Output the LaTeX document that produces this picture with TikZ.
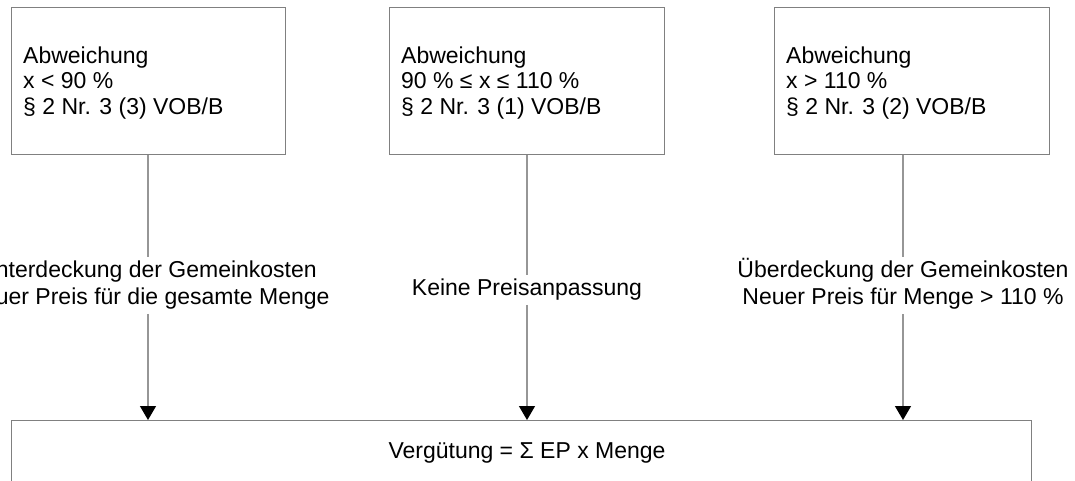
\documentclass[tikz,border=0pt]{standalone}
\usepackage{fontspec}
\setmainfont{Liberation Sans}
\usetikzlibrary{arrows.meta,calc}
\definecolor{boxgray}{RGB}{128,128,128}
\definecolor{linegray}{RGB}{150,150,150}
\begin{document}
\begin{tikzpicture}[x=1pt,y=-1pt,
  topbox/.style={draw=boxgray,line width=1.3pt,minimum width=#1,minimum height=147pt,inner sep=0pt,anchor=north west},
  boxtext/.style={anchor=north west,inner sep=0pt,align=left,font=\fontsize{23}{25.5}\selectfont},
  midlabel/.style={anchor=north,fill=white,inner xsep=2pt,inner ysep=1.5pt,align=center,font=\fontsize{23}{27}\selectfont},
  plainline/.style={draw=linegray,line width=1.3pt},
  arrowline/.style={draw=linegray,line width=1.3pt,-{Triangle[length=14pt,width=16pt,color=black]}}
]
\useasboundingbox (0,0) rectangle (1075,481);
\clip (0,0) rectangle (1075,481);

% top boxes
\node[topbox=274pt] (bl) at (11,7) {};
\node[topbox=275pt] (bm) at (389,7) {};
\node[topbox=275pt] (br) at (774,7) {};

\node[boxtext] (tl) at ($(bl.north west)+(12,38.4)$) {\strut Abweichung\\\strut x < 90 \%\\\strut § 2 Nr. 3 (3) VOB/B};
\node[boxtext] (tm) at ($(bm.north west)+(12,38.4)$) {\strut Abweichung\\\strut 90 \% ≤ x ≤ 110 \%\\\strut § 2 Nr. 3 (1) VOB/B};
\node[boxtext] (tr) at ($(br.north west)+(12,38.4)$) {\strut Abweichung\\\strut x > 110 \%\\\strut § 2 Nr. 3 (2) VOB/B};

% bottom box
\node[draw=boxgray,line width=1.3pt,minimum width=1020pt,minimum height=120pt,inner sep=0pt,anchor=north west] (out) at (11,420) {};
\node[anchor=base,inner sep=0pt,font=\fontsize{23}{27}\selectfont] (outtext) at (527,458) {Vergütung = Σ EP x Menge};

% middle labels
\node[midlabel] (ll) at (148,256.5) {\strut Unterdeckung der Gemeinkosten\\\strut Neuer Preis für die gesamte Menge};
\node[midlabel] (lm) at (527,274.5) {\strut Keine Preisanpassung};
\node[midlabel] (lr) at (903,256.5) {\strut Überdeckung der Gemeinkosten\\\strut Neuer Preis für Menge > 110 \%};

% connectors
\draw[plainline] (ll.north |- bl.south) -- (ll.north);
\draw[arrowline] (ll.south) -- (ll.south |- out.north);
\draw[plainline] (lm.north |- bm.south) -- (lm.north);
\draw[arrowline] (lm.south) -- (lm.south |- out.north);
\draw[plainline] (lr.north |- br.south) -- (lr.north);
\draw[arrowline] (lr.south) -- (lr.south |- out.north);
\end{tikzpicture}
\end{document}
